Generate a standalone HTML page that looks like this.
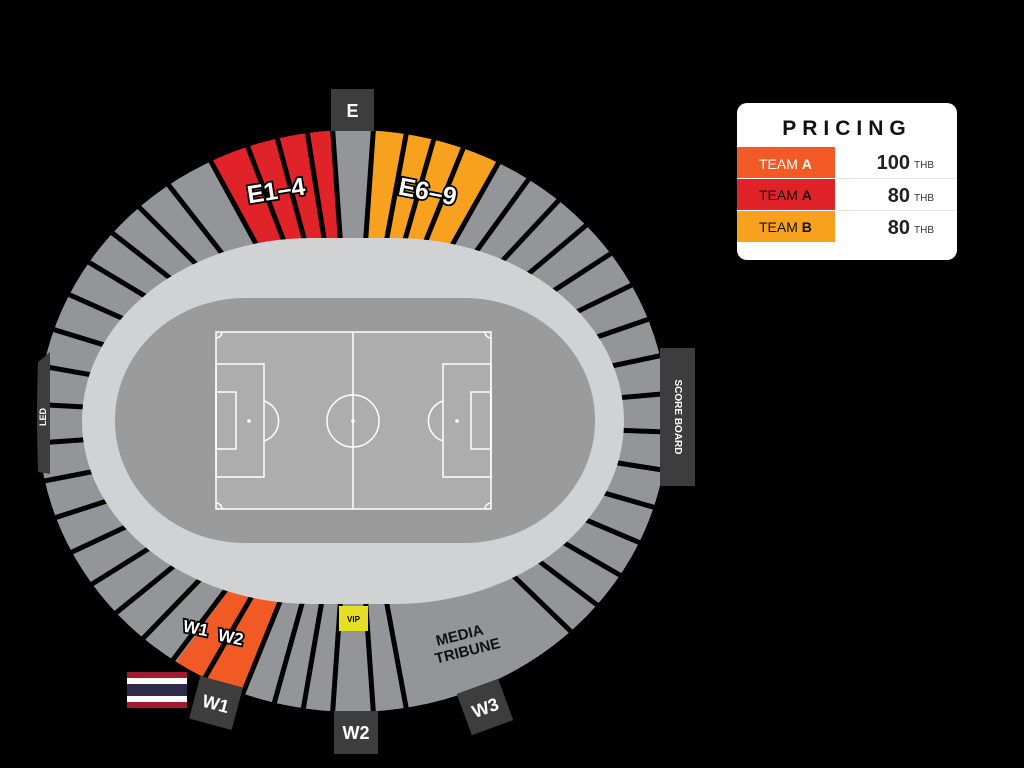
<!DOCTYPE html>
<html><head><meta charset="utf-8"><style>
html,body{margin:0;padding:0;background:#000;width:1024px;height:768px;overflow:hidden}
svg{display:block}
text{font-family:"Liberation Sans",sans-serif;font-weight:bold}
</style></head><body>
<svg width="1024" height="768" viewBox="0 0 1024 768" xmlns="http://www.w3.org/2000/svg">
<defs>
<clipPath id="ring"><ellipse cx="353" cy="421" rx="315" ry="291"/></clipPath>
</defs>
<rect width="1024" height="768" fill="#000"/>
<g clip-path="url(#ring)">
<ellipse cx="353" cy="421" rx="315" ry="291" fill="#939598"/>
<polygon points="353,421 67,-101 313,-161" fill="#e02229"/>
<polygon points="353,421 391,-161 647,-99" fill="#f7a11f"/>
<polygon points="353,421 -5,909 135,955" fill="#f15a24"/>
<g stroke="#000" stroke-width="5">
<line x1="353" y1="421" x2="353" y2="-300" transform="rotate(-28.7 353 421)"/>
<line x1="353" y1="421" x2="353" y2="-300" transform="rotate(-21 353 421)"/>
<line x1="353" y1="421" x2="353" y2="-300" transform="rotate(-15 353 421)"/>
<line x1="353" y1="421" x2="353" y2="-300" transform="rotate(-9 353 421)"/>
<line x1="353" y1="421" x2="353" y2="-300" transform="rotate(-4 353 421)"/>
<line x1="353" y1="421" x2="353" y2="-300" transform="rotate(4 353 421)"/>
<line x1="353" y1="421" x2="353" y2="-300" transform="rotate(10.5 353 421)"/>
<line x1="353" y1="421" x2="353" y2="-300" transform="rotate(16 353 421)"/>
<line x1="353" y1="421" x2="353" y2="-300" transform="rotate(22 353 421)"/>
<line x1="353" y1="421" x2="353" y2="-300" transform="rotate(29.4 353 421)"/>
<line x1="353" y1="421" x2="353" y2="-300" transform="rotate(36 353 421)"/>
<line x1="353" y1="421" x2="353" y2="-300" transform="rotate(43 353 421)"/>
<line x1="353" y1="421" x2="353" y2="-300" transform="rotate(50 353 421)"/>
<line x1="353" y1="421" x2="353" y2="-300" transform="rotate(57 353 421)"/>
<line x1="353" y1="421" x2="353" y2="-300" transform="rotate(64 353 421)"/>
<line x1="353" y1="421" x2="353" y2="-300" transform="rotate(71 353 421)"/>
<line x1="353" y1="421" x2="353" y2="-300" transform="rotate(78 353 421)"/>
<line x1="353" y1="421" x2="353" y2="-300" transform="rotate(85 353 421)"/>
<line x1="353" y1="421" x2="353" y2="-300" transform="rotate(92 353 421)"/>
<line x1="353" y1="421" x2="353" y2="-300" transform="rotate(99 353 421)"/>
<line x1="353" y1="421" x2="353" y2="-300" transform="rotate(106 353 421)"/>
<line x1="353" y1="421" x2="353" y2="-300" transform="rotate(113 353 421)"/>
<line x1="353" y1="421" x2="353" y2="-300" transform="rotate(120 353 421)"/>
<line x1="353" y1="421" x2="353" y2="-300" transform="rotate(127 353 421)"/>
<line x1="353" y1="421" x2="353" y2="-300" transform="rotate(134 353 421)"/>
<line x1="353" y1="421" x2="353" y2="-300" transform="rotate(169.5 353 421)"/>
<line x1="353" y1="421" x2="353" y2="-300" transform="rotate(176 353 421)"/>
<line x1="353" y1="421" x2="353" y2="-300" transform="rotate(184 353 421)"/>
<line x1="353" y1="421" x2="353" y2="-300" transform="rotate(189.8 353 421)"/>
<line x1="353" y1="421" x2="353" y2="-300" transform="rotate(195.6 353 421)"/>
<line x1="353" y1="421" x2="353" y2="-300" transform="rotate(202 353 421)"/>
<line x1="353" y1="421" x2="353" y2="-300" transform="rotate(210 353 421)"/>
<line x1="353" y1="421" x2="353" y2="-300" transform="rotate(217 353 421)"/>
<line x1="353" y1="421" x2="353" y2="-300" transform="rotate(224 353 421)"/>
<line x1="353" y1="421" x2="353" y2="-300" transform="rotate(231 353 421)"/>
<line x1="353" y1="421" x2="353" y2="-300" transform="rotate(238 353 421)"/>
<line x1="353" y1="421" x2="353" y2="-300" transform="rotate(245 353 421)"/>
<line x1="353" y1="421" x2="353" y2="-300" transform="rotate(252 353 421)"/>
<line x1="353" y1="421" x2="353" y2="-300" transform="rotate(259 353 421)"/>
<line x1="353" y1="421" x2="353" y2="-300" transform="rotate(266 353 421)"/>
<line x1="353" y1="421" x2="353" y2="-300" transform="rotate(273 353 421)"/>
<line x1="353" y1="421" x2="353" y2="-300" transform="rotate(280 353 421)"/>
<line x1="353" y1="421" x2="353" y2="-300" transform="rotate(287 353 421)"/>
<line x1="353" y1="421" x2="353" y2="-300" transform="rotate(294 353 421)"/>
<line x1="353" y1="421" x2="353" y2="-300" transform="rotate(301 353 421)"/>
<line x1="353" y1="421" x2="353" y2="-300" transform="rotate(308 353 421)"/>
<line x1="353" y1="421" x2="353" y2="-300" transform="rotate(315 353 421)"/>
<line x1="353" y1="421" x2="353" y2="-300" transform="rotate(322 353 421)"/>
</g>
</g>
<rect x="82" y="238" width="542" height="366" rx="230" ry="183" fill="#d1d2d4"/>
<rect x="115" y="298" width="480" height="245" rx="130" ry="122" fill="#9b9b9b"/>
<g fill="none" stroke="#fff" stroke-width="1.5">
<rect x="216" y="332" width="275" height="177" fill="#adadad"/>
<line x1="353" y1="332" x2="353" y2="509"/>
<circle cx="353" cy="421" r="26"/>
<rect x="216" y="364" width="48" height="113"/>
<rect x="216" y="392" width="20" height="57"/>
<rect x="443" y="364" width="48" height="113"/>
<rect x="471" y="392" width="20" height="57"/>
<path d="M264,401 A21,21 0 0 1 264,441"/>
<path d="M443,401 A21,21 0 0 0 443,441"/>
<path d="M216,338 A6,6 0 0 0 222,332"/>
<path d="M485,332 A6,6 0 0 0 491,338"/>
<path d="M216,503 A6,6 0 0 1 222,509"/>
<path d="M485,509 A6,6 0 0 1 491,503"/>
</g>
<g fill="#fff"><circle cx="353" cy="421" r="1.8"/><circle cx="249" cy="421" r="1.8"/><circle cx="457" cy="421" r="1.8"/></g>
<rect x="339" y="606" width="29" height="25" fill="#e5de25"/>
<text x="353.5" y="622" font-size="8" text-anchor="middle" fill="#000">VIP</text>
<text x="462" y="640" font-size="15" text-anchor="middle" fill="#111" transform="rotate(-14 462 645)">MEDIA</text>
<text x="466" y="657" font-size="15" text-anchor="middle" fill="#111" transform="rotate(-14 462 645)">TRIBUNE</text>
<g fill="#fff" stroke="#000" stroke-width="3.5" paint-order="stroke" text-anchor="middle">
<text x="276" y="199" font-size="25" transform="rotate(-9 276 190)">E1–4</text>
<text x="428" y="200" font-size="25" transform="rotate(11 428 190)">E6–9</text>
<text x="196" y="634" font-size="17" transform="rotate(12 196 627)">W1</text>
<text x="231" y="643" font-size="17" transform="rotate(12 231 636)">W2</text>
</g>
<rect x="331" y="89" width="43" height="42" fill="#3d3d3d"/>
<text x="352.5" y="117" font-size="18" fill="#fff" text-anchor="middle">E</text>
<rect x="334" y="711" width="44" height="43" fill="#3d3d3d"/>
<text x="356" y="739" font-size="18" fill="#fff" text-anchor="middle">W2</text>
<g transform="rotate(15 216 703)"><rect x="194" y="681" width="44" height="44" fill="#3d3d3d"/><text x="216" y="710" font-size="18" fill="#fff" text-anchor="middle">W1</text></g>
<g transform="rotate(-20 485 707)"><rect x="463" y="685" width="44" height="44" fill="#3d3d3d"/><text x="485" y="714" font-size="18" fill="#fff" text-anchor="middle">W3</text></g>
<rect x="660" y="348" width="35" height="138" fill="#3d3d3d"/>
<text x="0" y="0" font-size="10" fill="#fff" text-anchor="middle" transform="translate(678 417) rotate(90)" dy="3">SCORE BOARD</text>
<path d="M50,352 L38,362 Q36,412 38,472 L50,474 Z" fill="#3d3d3d"/>
<text font-size="9" fill="#fff" text-anchor="middle" transform="translate(43 417) rotate(-90)" dy="3">LED</text>
<rect x="127" y="672" width="60" height="36" fill="#a51931"/>
<rect x="127" y="678" width="60" height="24" fill="#fff"/>
<rect x="127" y="684" width="60" height="12" fill="#2d2a4a"/>
<rect x="737" y="103" width="220" height="157" rx="10" fill="#fff"/>
<text x="847" y="135" font-size="21" text-anchor="middle" letter-spacing="6" fill="#111">PRICING</text>
<rect x="737" y="147" width="98" height="31" fill="#f15a24"/>
<rect x="737" y="179" width="98" height="31" fill="#e02229"/>
<rect x="737" y="211" width="98" height="31" fill="#f7a11f"/>
<line x1="835" y1="178.5" x2="957" y2="178.5" stroke="#e6e6e6"/>
<line x1="835" y1="210.5" x2="957" y2="210.5" stroke="#e6e6e6"/>
<text x="759" y="169" font-size="14" fill="#fff" style="font-weight:normal">TEAM <tspan font-weight="bold">A</tspan></text>
<text x="759" y="200" font-size="14" fill="#111" style="font-weight:normal">TEAM <tspan font-weight="bold">A</tspan></text>
<text x="759" y="232" font-size="14" fill="#111" style="font-weight:normal">TEAM <tspan font-weight="bold">B</tspan></text>
<text x="910" y="169" font-size="20" fill="#222" text-anchor="end">100</text>
<text x="910" y="202" font-size="20" fill="#222" text-anchor="end">80</text>
<text x="910" y="234" font-size="20" fill="#222" text-anchor="end">80</text>
<text x="914" y="168" font-size="10" fill="#333" style="font-weight:normal">THB</text>
<text x="914" y="201" font-size="10" fill="#333" style="font-weight:normal">THB</text>
<text x="914" y="233" font-size="10" fill="#333" style="font-weight:normal">THB</text>
</svg>
</body></html>
